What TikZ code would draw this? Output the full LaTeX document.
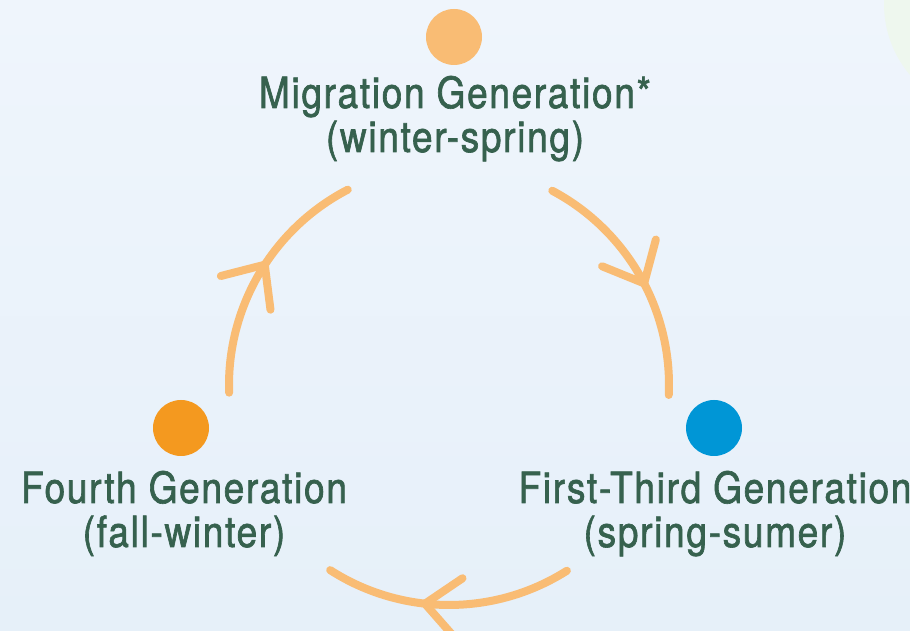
\documentclass[tikz,border=0pt]{standalone}
\usepackage{fontspec}
\setmainfont{TeX Gyre Heros}[FakeStretch=0.86,LetterSpace=4,FakeBold=1.5]
\usetikzlibrary{positioning,arrows.meta,decorations.markings}
\definecolor{bgtop}{HTML}{EFF5FC}
\definecolor{bgbot}{HTML}{E6F0F9}
\definecolor{leafgreen}{HTML}{EEF7EE}
\definecolor{peach}{HTML}{F9BC74}
\definecolor{amber}{HTML}{F4991F}
\definecolor{skyblue}{HTML}{0096D6}
\definecolor{textgreen}{HTML}{36614E}

\begin{document}
\begin{tikzpicture}[x=1pt,y=1pt]
\tikzset{
    gen dot/.style={circle, minimum size=56pt, inner sep=0pt, fill=#1},
    gen text/.style={text=textgreen, font=\fontsize{43}{44}\selectfont,
        align=center, anchor=base, inner sep=0pt},
    cycle arc/.style={peach, line width=8pt, line cap=round,
        postaction={decorate, decoration={markings, mark=at position #1 with
            {\arrow[peach, line width=8pt]{Straight Barb[length=34pt, width=60pt, round]}}}}}}
\def\rc{220}

\useasboundingbox (0,0) rectangle (910,631);
\fill[top color=bgtop, bottom color=bgbot] (0,0) rectangle (910,631);
\begin{scope}
    \clip (0,0) rectangle (910,631);
    \fill[leafgreen] (994,627) circle[radius=110];
\end{scope}

\coordinate (C) at (449,246);

\node[gen dot=peach] (mig) at (454,594) {};
\node[gen dot=amber] (fourth) at (181,203) {};
\node[gen dot=skyblue] (first) at (714,203) {};

% base anchor sits on the second line
\node[gen text] (migtext) at (455,479) {Migration Generation*\\(winter-spring)};
\node[gen text] (fourthtext) at (184,84) {Fourth Generation\\(fall-winter)};
\node[gen text] (firsttext) at (715,84) {First-Third Generation\\(spring-sumer)};

\draw[cycle arc=0.55] ([shift={(62:\rc)}]C) arc[start angle=62, end angle=-2.6, radius=\rc];
\draw[cycle arc=0.61] ([shift={(-57.6:\rc)}]C) arc[start angle=-57.6, end angle=-122.7, radius=\rc];
\draw[cycle arc=0.56] ([shift={(182:\rc)}]C) arc[start angle=182, end angle=117.4, radius=\rc];

\end{tikzpicture}
\end{document}
